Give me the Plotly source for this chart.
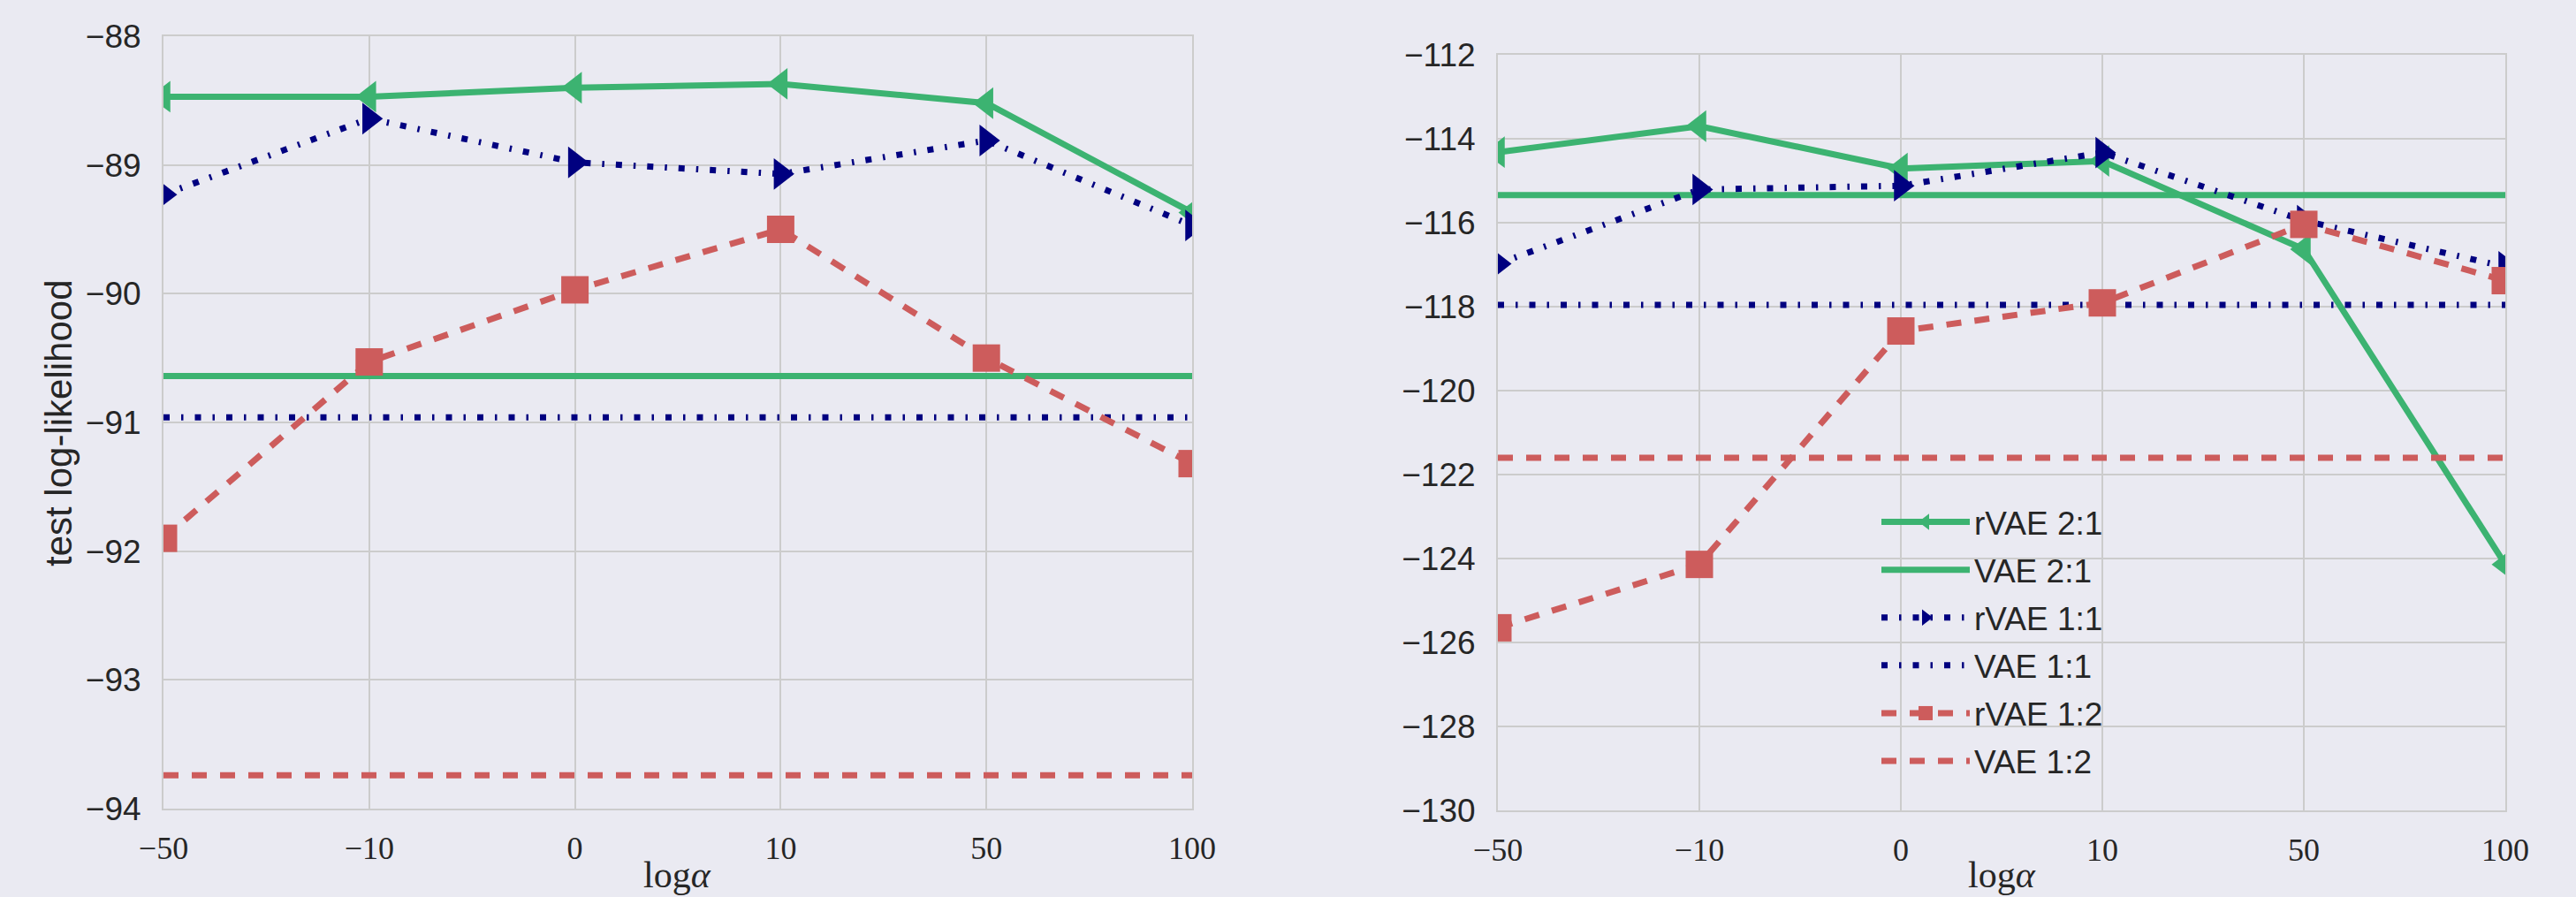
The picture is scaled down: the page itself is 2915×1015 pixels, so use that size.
import plotly.graph_objects as go

# --- data -------------------------------------------------------------------
alpha_labels = ["−50", "−10", "0", "10", "50", "100"]

# left panel: test log-likelihood per log(alpha)
left_rvae_21 = [-88.47, -88.47, -88.40, -88.37, -88.52, -89.37]
left_rvae_11 = [-89.23, -88.64, -88.98, -89.07, -88.81, -89.47]
left_rvae_12 = [-91.90, -90.53, -89.97, -89.50, -90.50, -91.32]
left_vae_21 = -90.64
left_vae_11 = -90.96
left_vae_12 = -93.74

# right panel
right_rvae_21 = [-114.32, -113.70, -114.71, -114.53, -116.63, -124.14]
right_rvae_11 = [-116.98, -115.21, -115.12, -114.33, -115.95, -117.05]
right_rvae_12 = [-125.65, -124.14, -118.58, -117.91, -116.04, -117.38]
right_vae_21 = -115.34
right_vae_11 = -117.96
right_vae_12 = -121.60

series_names = ["rVAE 2:1", "VAE 2:1", "rVAE 1:1", "VAE 1:1", "rVAE 1:2", "VAE 1:2"]

# --- styling ----------------------------------------------------------------
GREEN = "#3CB371"
NAVY = "#000080"
RED = "#CD5C5C"
BG = "#EAEAF2"
GRID = "#CCCCCC"
TEXT = "#262626"
SANS = "Liberation Sans, Arial, sans-serif"
SERIF = "Liberation Serif, Times New Roman, serif"

LW = 7
DASHDOT = "7px,13px,2.5px,13px"
DASHED = "17px,15px"

styles = {
    "rVAE 2:1": dict(color=GREEN, dash="solid", symbol="triangle-left", size=31),
    "VAE 2:1": dict(color=GREEN, dash="solid", symbol=None, size=0),
    "rVAE 1:1": dict(color=NAVY, dash=DASHDOT, symbol="triangle-right", size=31),
    "VAE 1:1": dict(color=NAVY, dash=DASHDOT, symbol=None, size=0),
    "rVAE 1:2": dict(color=RED, dash=DASHED, symbol="square", size=31),
    "VAE 1:2": dict(color=RED, dash=DASHED, symbol=None, size=0),
}

panels = [
    dict(xref="x", yref="y", legend=False,
         values={"rVAE 2:1": left_rvae_21, "VAE 2:1": [left_vae_21] * len(alpha_labels),
                 "rVAE 1:1": left_rvae_11, "VAE 1:1": [left_vae_11] * len(alpha_labels),
                 "rVAE 1:2": left_rvae_12, "VAE 1:2": [left_vae_12] * len(alpha_labels)}),
    dict(xref="x2", yref="y2", legend=True,
         values={"rVAE 2:1": right_rvae_21, "VAE 2:1": [right_vae_21] * len(alpha_labels),
                 "rVAE 1:1": right_rvae_11, "VAE 1:1": [right_vae_11] * len(alpha_labels),
                 "rVAE 1:2": right_rvae_12, "VAE 1:2": [right_vae_12] * len(alpha_labels)}),
]

fig = go.Figure()
for panel in panels:
    for name in series_names:
        st = styles[name]
        has_marker = st["symbol"] is not None
        fig.add_trace(go.Scatter(
            x=alpha_labels,
            y=panel["values"][name],
            name=name,
            legendgroup=name,
            showlegend=panel["legend"],
            mode="lines+markers" if has_marker else "lines",
            line=dict(color=st["color"], width=LW, dash=st["dash"]),
            marker=dict(symbol=st["symbol"], size=st["size"], color=st["color"],
                        line=dict(width=0)) if has_marker else None,
            xaxis=panel["xref"],
            yaxis=panel["yref"],
        ))

W, H = 2915, 1015


def px_x(v):
    return v / W


def px_y(v):
    return 1 - v / H


axis_common = dict(
    showgrid=True, gridcolor=GRID, gridwidth=2,
    showline=True, mirror=True, linecolor=GRID, linewidth=2,
    zeroline=False, ticks="", automargin=False,
)

xaxis_common = dict(
    axis_common, type="category", range=[0, 5],
    tickfont=dict(family=SERIF, size=36, color=TEXT),
    ticklabelstandoff=12,
)

yaxis_common = dict(
    axis_common,
    tickfont=dict(family=SANS, size=37, color=TEXT),
    ticklabelstandoff=16,
)

fig.update_layout(
    template="none",
    width=W, height=H,
    margin=dict(l=0, r=0, t=0, b=0, pad=0, autoexpand=False),
    paper_bgcolor=BG, plot_bgcolor=BG,
    xaxis=dict(xaxis_common, domain=[px_x(185), px_x(1349)], anchor="y"),
    yaxis=dict(yaxis_common, domain=[px_y(915), px_y(41)], range=[-94, -88], dtick=1, anchor="x"),
    xaxis2=dict(xaxis_common, domain=[px_x(1695), px_x(2835)], anchor="y2"),
    yaxis2=dict(yaxis_common, domain=[px_y(917), px_y(62)], range=[-130, -112], dtick=2, anchor="x2"),
    legend=dict(
        x=px_x(2124), y=px_y(560), xanchor="left", yanchor="top",
        bgcolor="rgba(0,0,0,0)", borderwidth=0,
        font=dict(family=SANS, size=37, color=TEXT),
        itemwidth=100, tracegroupgap=3, traceorder="grouped",
    ),
    showlegend=True,
    annotations=[
        dict(text="test log-likelihood", x=px_x(66), y=px_y(479), xref="paper", yref="paper",
             textangle=-90, showarrow=False, xanchor="center", yanchor="middle",
             font=dict(family=SANS, size=42, color=TEXT)),
        dict(text="log<i>α</i>", x=px_x(766), y=0, xref="paper", yref="paper",
             showarrow=False, xanchor="center", yanchor="bottom",
             font=dict(family=SERIF, size=42, color=TEXT)),
        dict(text="log<i>α</i>", x=px_x(2265), y=0, xref="paper", yref="paper",
             showarrow=False, xanchor="center", yanchor="bottom",
             font=dict(family=SERIF, size=42, color=TEXT)),
    ],
)

fig.write_html("out.html")
